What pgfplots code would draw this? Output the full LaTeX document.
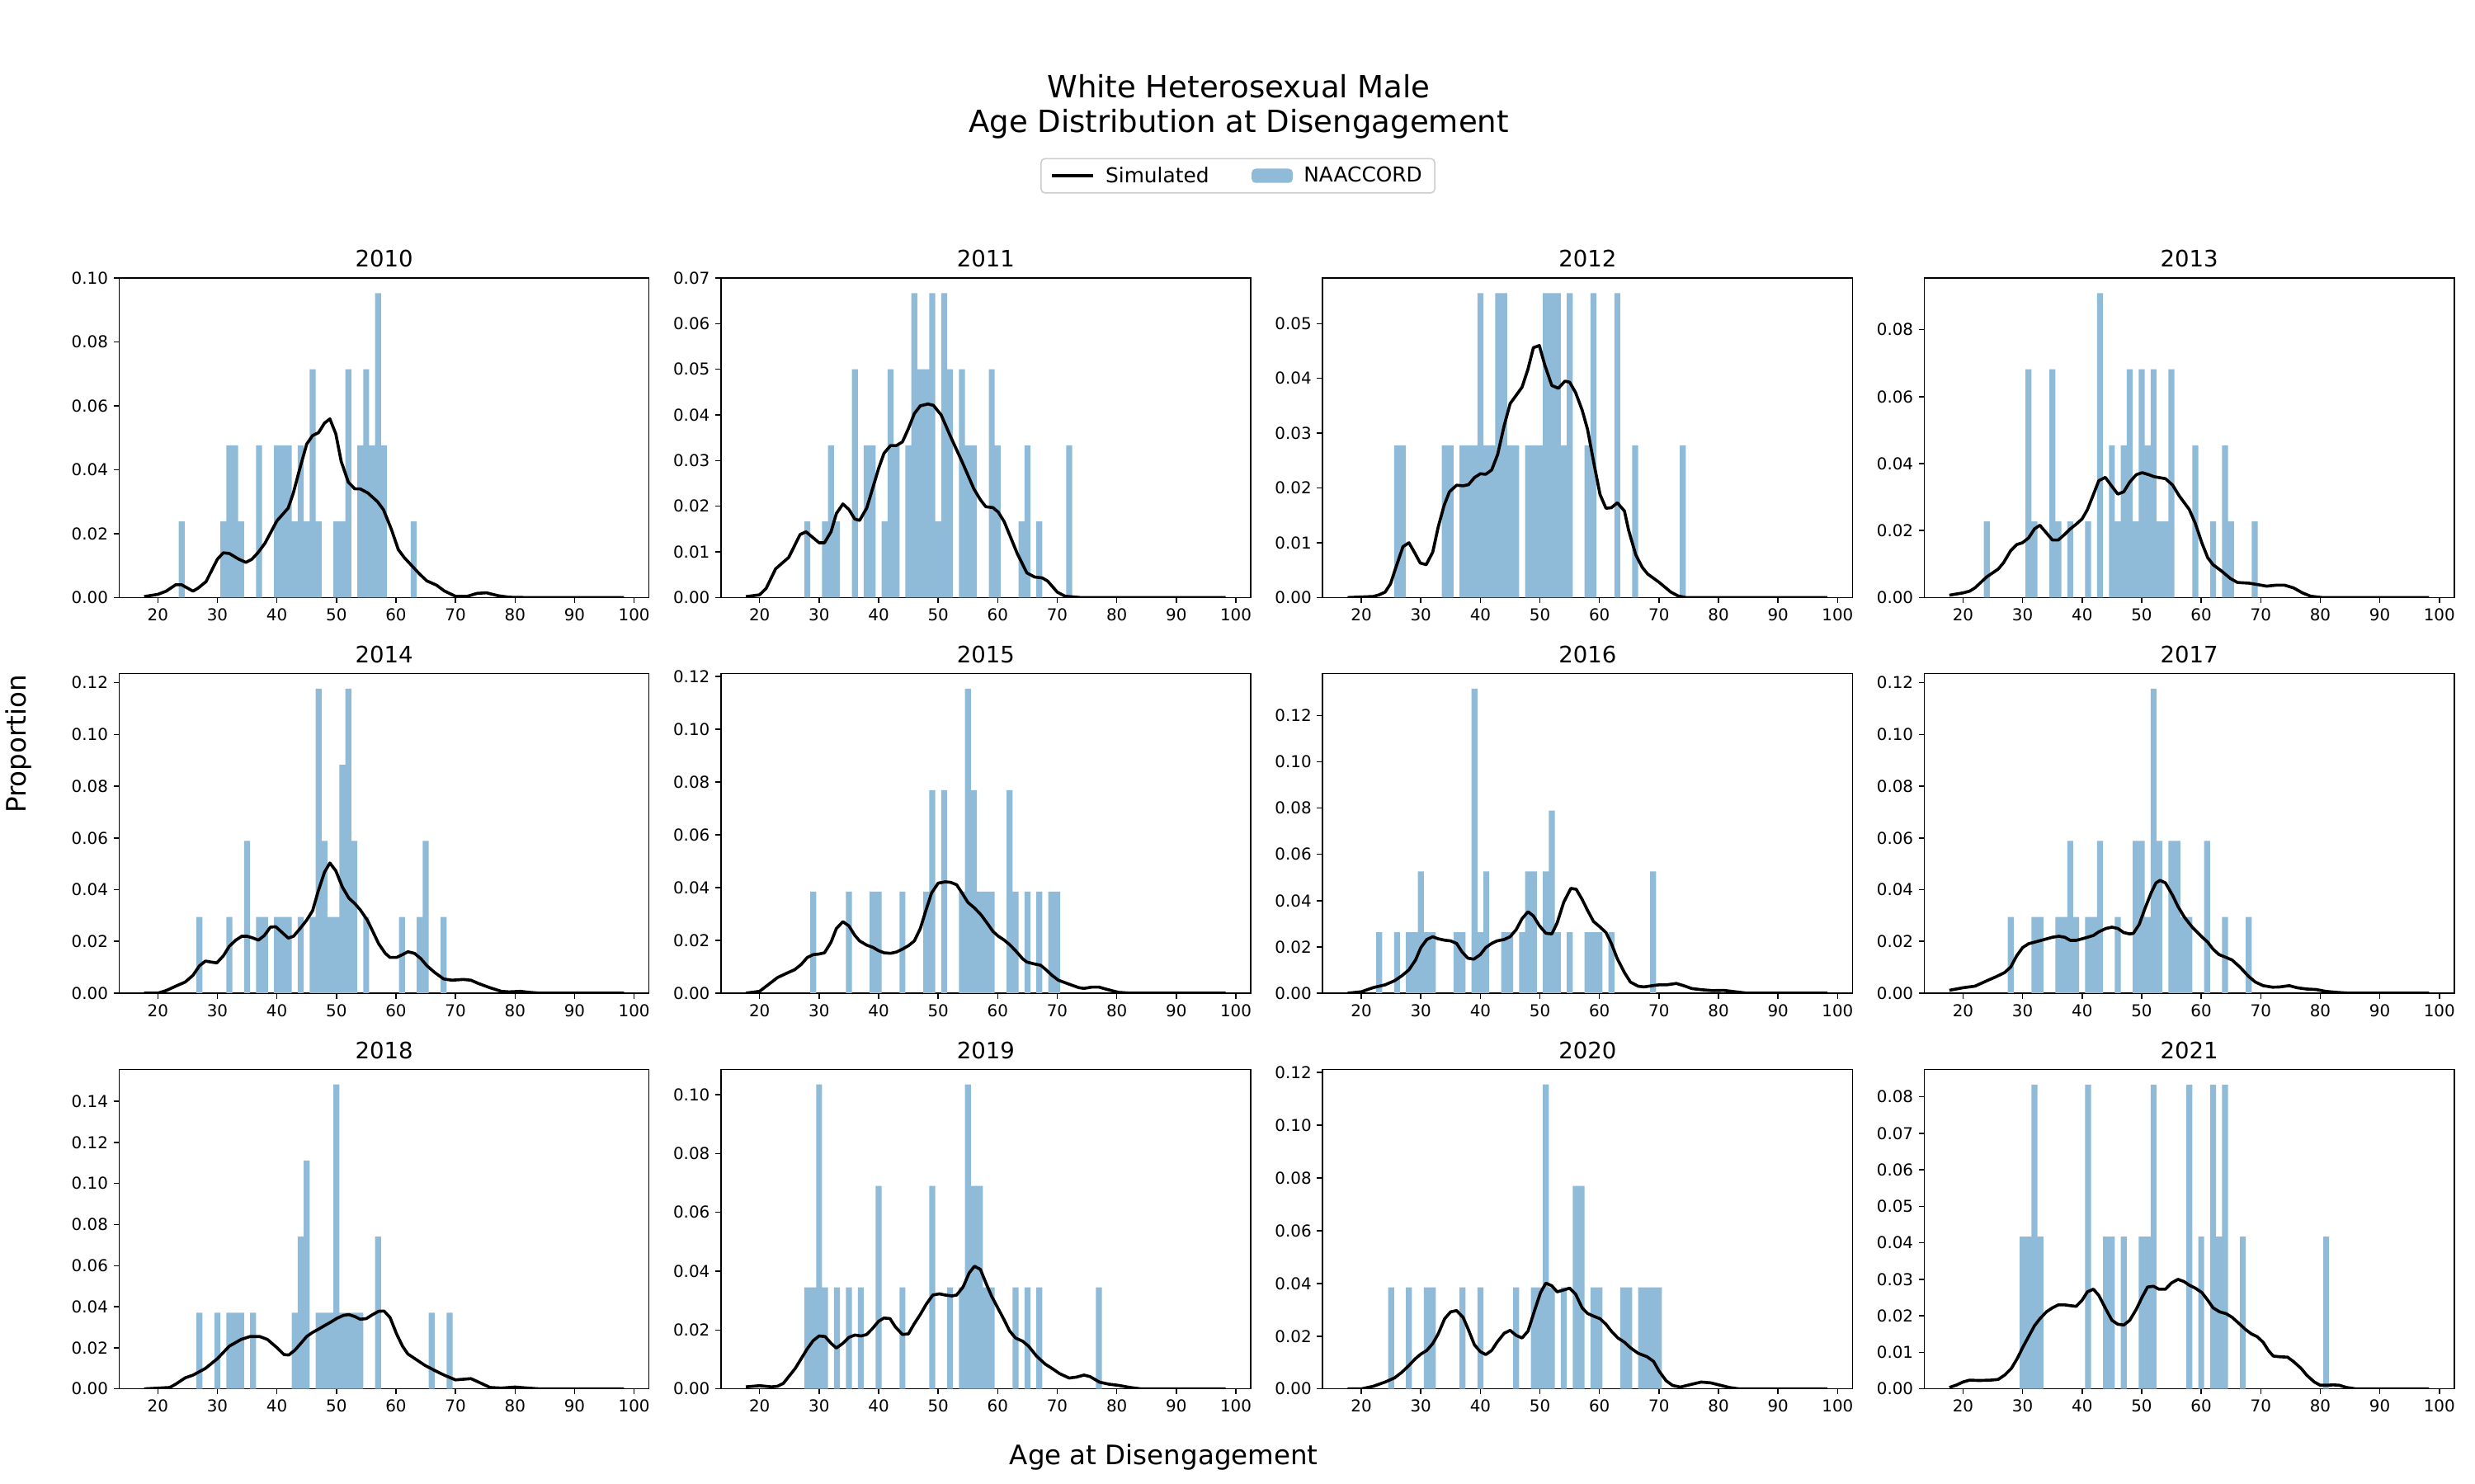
\documentclass[border=0pt]{standalone}
\usepackage{fontspec}
\setmainfont{DejaVu Sans}
\usepackage{pgfplots}
\pgfplotsset{compat=1.18}
\definecolor{histblue}{RGB}{143,187,217}
\definecolor{legedge}{RGB}{204,204,204}
\pgfplotsset{
  panel/.style={
    scale only axis, width=336pt, height=202.7pt, anchor=north west,
    xmin=13.5, xmax=102.5, ymin=0,
    xtick={20,30,40,50,60,70,80,90,100},
    tick pos=left, tick align=outside, major tick length=3.5pt,
    tick style={black, line width=0.8pt},
    axis line style={black, line width=0.8pt},
    scaled y ticks=false,
    /pgf/number format/assume math mode=true,
    tick label style={font=\fontsize{10.4}{12}\selectfont},
    yticklabel style={/pgf/number format/.cd, fixed, fixed zerofill, precision=2, /tikz/.cd},
    xticklabel style={/pgf/number format/.cd, fixed, precision=0, /tikz/.cd},
    title style={font=\fontsize{14.4}{17}\selectfont, at={(0.5,1)}, anchor=base, yshift=0.8pt},
  },
  hist/.style={ybar, bar width=1, bar shift=0pt, fill=histblue, draw=none},
  kde/.style={black, line width=1.9pt, line join=round, no marks},
}
\begin{document}
\begin{tikzpicture}
\path (0pt,0pt) rectangle (1568pt,940.8pt);
\node[font=\fontsize{19.4}{23}\selectfont, anchor=base] at (784pt,878.8pt) {White Heterosexual Male};
\node[font=\fontsize{19.4}{23}\selectfont, anchor=base] at (784pt,856.8pt) {Age Distribution at Disengagement};
\node[font=\fontsize{17}{20}\selectfont, rotate=90, anchor=center] at (10pt,468.8pt) {Proportion};
\node[font=\fontsize{17}{20}\selectfont, anchor=base] at (736.5pt,12pt) {Age at Disengagement};

% 2010
\begin{axis}[panel, at={(74pt,764.5pt)}, title={2010}, ymax=0.1, ytick={0,0.02,0.04,0.06,0.08,0.10},
  reverse legend, legend columns=2,
  legend style={at={(2.1116,1.3197)}, anchor=center, draw=legedge, line width=0.8pt, rounded corners=2.5pt,
    font=\fontsize{13}{15}\selectfont, inner xsep=6pt, inner ysep=3.2pt,
    /tikz/every even column/.append style={column sep=25pt},
    /tikz/every odd column/.append style={column sep=5pt}}]
\addplot[hist, legend image code/.code={\fill[histblue] (0pt,-4.5pt) rectangle (26pt,4.5pt);}] coordinates {(24,0.02381)(31,0.02381)(32,0.04762)(33,0.04762)(34,0.02381)(37,0.04762)(40,0.04762)(41,0.04762)(42,0.04762)(43,0.02381)(44,0.04762)(45,0.02381)(46,0.07143)(47,0.02381)(50,0.02381)(51,0.02381)(52,0.07143)(54,0.04762)(55,0.07143)(56,0.04762)(57,0.09524)(58,0.04762)(63,0.02381)};
\addlegendentry{NAACCORD}
\addplot[kde, legend image code/.code={\draw[black,line width=1.9pt] (0pt,0pt) -- (26pt,0pt);}] coordinates {(17.7,0.0003)(20,0.001)(21.4,0.002)(23,0.004)(24,0.004)(25.9,0.002)(26.8,0.003)(28.1,0.005)(30,0.012)(31,0.014)(32,0.0138)(33.6,0.012)(34.8,0.011)(35.8,0.012)(36.8,0.014)(38,0.017)(40,0.024)(41.9,0.028)(42.8,0.033)(43.8,0.040)(45,0.048)(46,0.0507)(47,0.0516)(48,0.0546)(48.9,0.0559)(49.9,0.0512)(50.8,0.0426)(52,0.0361)(53.1,0.034)(54,0.034)(55.3,0.0327)(56.9,0.030)(57.9,0.0275)(59.2,0.0215)(60.4,0.015)(61.4,0.0125)(62.7,0.0099)(64,0.0073)(65.2,0.0052)(66.8,0.0039)(68.1,0.0021)(70,0.0004)(72,0.0004)(73.6,0.0013)(75.2,0.0015)(77.1,0.0006)(79,0.0001)(82,0)(98.3,0)};
\addlegendentry{Simulated}
\end{axis}

% 2011
\begin{axis}[panel, at={(455.6pt,764.5pt)}, title={2011}, ymax=0.07, ytick={0,0.01,0.02,0.03,0.04,0.05,0.06,0.07}]
\addplot[hist] coordinates {(28,0.01667)(31,0.01667)(32,0.03333)(33,0.01667)(36,0.05)(38,0.03333)(39,0.03333)(41,0.01667)(42,0.05)(43,0.03333)(45,0.03333)(46,0.06667)(47,0.05)(48,0.05)(49,0.06667)(50,0.01667)(51,0.06667)(52,0.05)(54,0.05)(55,0.03333)(56,0.03333)(59,0.05)(60,0.03333)(64,0.01667)(65,0.03333)(67,0.01667)(72,0.03333)};
\addplot[kde] coordinates {(17.7,0.0002)(20,0.0006)(21.1,0.002)(22.7,0.0063)(24.9,0.0088)(26.8,0.0138)(27.8,0.0144)(30,0.012)(30.9,0.012)(32,0.0144)(32.9,0.0184)(34,0.0205)(35,0.0193)(36,0.0172)(36.8,0.0169)(38,0.0196)(40,0.0283)(40.9,0.0316)(42,0.0333)(43,0.0333)(44,0.0341)(45,0.037)(46,0.0403)(47,0.042)(48.3,0.0424)(49.2,0.0421)(50.5,0.040)(52.1,0.0352)(54,0.0298)(56,0.0238)(57.1,0.0214)(58,0.0199)(59.2,0.0197)(60.1,0.0187)(61.1,0.0166)(63.3,0.0096)(64.9,0.0054)(66.2,0.0045)(67.5,0.0043)(68.4,0.0036)(70,0.0012)(71.3,0.0003)(73.9,0)(98.3,0)};
\end{axis}

% 2012
\begin{axis}[panel, at={(837.2pt,764.5pt)}, title={2012}, ymax=0.05833, ytick={0,0.01,0.02,0.03,0.04,0.05}]
\addplot[hist] coordinates {(26,0.02778)(27,0.02778)(34,0.02778)(35,0.02778)(37,0.02778)(38,0.02778)(39,0.02778)(40,0.05556)(41,0.02778)(42,0.02778)(43,0.05556)(44,0.05556)(45,0.02778)(46,0.02778)(48,0.02778)(49,0.02778)(50,0.02778)(51,0.05556)(52,0.05556)(53,0.05556)(54,0.02778)(55,0.05556)(58,0.02778)(59,0.05556)(63,0.05556)(66,0.02778)(74,0.02778)};
\addplot[kde] coordinates {(17.7,0)(22,0.0002)(23,0.0005)(24,0.001)(24.9,0.0025)(25.9,0.0058)(27,0.0093)(28,0.010)(28.9,0.0083)(29.9,0.0063)(30.9,0.006)(32,0.0083)(32.9,0.0128)(33.9,0.0168)(34.8,0.0193)(36,0.0205)(37.1,0.0204)(38,0.0206)(39,0.0219)(40,0.0226)(40.9,0.0225)(41.9,0.0233)(42.9,0.0261)(44,0.0314)(45,0.0354)(46,0.0369)(47,0.0384)(48,0.0417)(48.9,0.0456)(49.9,0.046)(50.8,0.0425)(52,0.0387)(53.1,0.0382)(54.2,0.0395)(55,0.0393)(56,0.0374)(57.1,0.0342)(58,0.0307)(59,0.0249)(60.1,0.0188)(61.1,0.0163)(62,0.0164)(63,0.0173)(64.2,0.0158)(64.9,0.0123)(66.1,0.0078)(67.2,0.0055)(68.1,0.0043)(70,0.0028)(72,0.001)(73.2,0.0003)(74.5,0)(98.3,0)};
\end{axis}

% 2013
\begin{axis}[panel, at={(1218.8pt,764.5pt)}, title={2013}, ymax=0.09545, ytick={0,0.02,0.04,0.06,0.08}]
\addplot[hist] coordinates {(24,0.02273)(31,0.06818)(32,0.02273)(35,0.06818)(36,0.02273)(38,0.02273)(41,0.02273)(43,0.09091)(45,0.04545)(46,0.02273)(47,0.04545)(48,0.06818)(49,0.02273)(50,0.06818)(51,0.04545)(52,0.06818)(53,0.02273)(54,0.02273)(55,0.06818)(59,0.04545)(62,0.02273)(64,0.04545)(65,0.02273)(69,0.02273)};
\addplot[kde] coordinates {(17.7,0.0007)(20,0.0014)(21.1,0.0019)(22,0.0029)(24,0.0062)(25.9,0.0085)(26.8,0.0104)(28,0.014)(29,0.0158)(30,0.0164)(31,0.0178)(32,0.0205)(32.9,0.0216)(34,0.0193)(35,0.0172)(36,0.0172)(37.1,0.0189)(38,0.0205)(39,0.0219)(40,0.0235)(40.9,0.0263)(41.9,0.0308)(42.8,0.0349)(43.9,0.0359)(45,0.0332)(46,0.0309)(47,0.0316)(48,0.0345)(49.1,0.0367)(50.1,0.0373)(51.2,0.0367)(52.1,0.0361)(54,0.0355)(55.2,0.0336)(56.3,0.0304)(58,0.0263)(59,0.0222)(60.1,0.0164)(61.1,0.0119)(62,0.0098)(63.5,0.0078)(64.9,0.0057)(66.1,0.0045)(68,0.0043)(69.4,0.0039)(71,0.0034)(72.6,0.0037)(74,0.0037)(75.5,0.0029)(77,0.0014)(78.4,0.0004)(80.3,0)(98.3,0)};
\end{axis}

% 2014
\begin{axis}[panel, at={(74pt,513.6pt)}, title={2014}, ymax=0.12353, ytick={0,0.02,0.04,0.06,0.08,0.10,0.12}]
\addplot[hist] coordinates {(27,0.02941)(32,0.02941)(35,0.05882)(37,0.02941)(38,0.02941)(40,0.02941)(41,0.02941)(42,0.02941)(44,0.02941)(46,0.02941)(47,0.11765)(48,0.05882)(49,0.02941)(50,0.02941)(51,0.08824)(52,0.11765)(53,0.05882)(55,0.02941)(61,0.02941)(64,0.02941)(65,0.05882)(68,0.02941)};
\addplot[kde] coordinates {(17.7,0)(20,0)(21.4,0.001)(23,0.0027)(24.6,0.0043)(25.9,0.0069)(27,0.0106)(28,0.0124)(29,0.012)(29.9,0.0117)(31,0.0144)(32,0.0181)(33.1,0.0205)(34.1,0.022)(35,0.022)(36,0.0213)(36.9,0.0205)(37.9,0.0223)(38.9,0.0255)(39.8,0.0257)(40.9,0.0234)(41.9,0.0213)(42.8,0.022)(43.9,0.025)(45,0.0282)(46,0.0319)(47,0.0399)(48,0.0468)(48.9,0.0503)(49.9,0.0473)(51,0.041)(52.1,0.0367)(53.1,0.0346)(54,0.0322)(55.2,0.0282)(56.1,0.0239)(57.1,0.0191)(58.2,0.0154)(59,0.0138)(60.1,0.0138)(61.1,0.0149)(62,0.016)(63.1,0.0154)(64.2,0.0133)(65.2,0.0106)(66.5,0.008)(68,0.0055)(69.4,0.005)(71.3,0.0053)(72.6,0.005)(73.9,0.0037)(75.8,0.0021)(77.7,0.0007)(79,0.0005)(80.9,0.0007)(82.5,0.0003)(84.1,0)(98.3,0)};
\end{axis}

% 2015
\begin{axis}[panel, at={(455.6pt,513.6pt)}, title={2015}, ymax=0.12115, ytick={0,0.02,0.04,0.06,0.08,0.10,0.12}]
\addplot[hist] coordinates {(29,0.03846)(35,0.03846)(39,0.03846)(40,0.03846)(44,0.03846)(48,0.03846)(49,0.07692)(51,0.07692)(54,0.03846)(55,0.11538)(56,0.07692)(57,0.03846)(58,0.03846)(59,0.03846)(62,0.07692)(63,0.03846)(65,0.03846)(67,0.03846)(69,0.03846)(70,0.03846)};
\addplot[kde] coordinates {(17.7,0)(20,0.0007)(21.1,0.0026)(23,0.0059)(24.6,0.0076)(25.9,0.0089)(27,0.0109)(28,0.0135)(29,0.0146)(29.9,0.0148)(30.9,0.0153)(32,0.0193)(32.9,0.0245)(34,0.0271)(35,0.0255)(36,0.0219)(36.8,0.0198)(38,0.0182)(39,0.0174)(40,0.0161)(40.9,0.0153)(42,0.0151)(43,0.0156)(44,0.0167)(45,0.018)(46,0.0198)(47,0.0245)(48,0.0318)(48.9,0.038)(50,0.0417)(51.2,0.0422)(52.1,0.042)(53.1,0.0411)(54,0.038)(55,0.0344)(56.1,0.0323)(57.2,0.0297)(58.4,0.026)(59.2,0.0234)(60.1,0.0216)(61.1,0.0201)(62,0.0184)(63,0.0161)(64.2,0.013)(64.9,0.0118)(66.1,0.0111)(67.2,0.0106)(68.1,0.0089)(69.1,0.0068)(70.2,0.0049)(72,0.0034)(73.6,0.0021)(74.5,0.0018)(75.8,0.0023)(77,0.0023)(78.4,0.0014)(80.3,0.0003)(82.2,0)(98.3,0)};
\end{axis}

% 2016
\begin{axis}[panel, at={(837.2pt,513.6pt)}, title={2016}, ymax=0.13816, ytick={0,0.02,0.04,0.06,0.08,0.10,0.12}]
\addplot[hist] coordinates {(23,0.02632)(26,0.02632)(28,0.02632)(29,0.02632)(30,0.05263)(31,0.02632)(32,0.02632)(36,0.02632)(37,0.02632)(39,0.13158)(40,0.02632)(41,0.05263)(44,0.02632)(45,0.02632)(47,0.02632)(48,0.05263)(49,0.05263)(51,0.05263)(52,0.07895)(53,0.02632)(55,0.02632)(58,0.02632)(59,0.02632)(60,0.02632)(62,0.02632)(69,0.05263)};
\addplot[kde] coordinates {(17.7,0)(20,0.0006)(22,0.0024)(24,0.0036)(25.6,0.0054)(26.8,0.0075)(28,0.0101)(29.1,0.0143)(30,0.0197)(31,0.0232)(32,0.0244)(32.9,0.0235)(34,0.0229)(35,0.0226)(36,0.0215)(36.9,0.0179)(37.9,0.0151)(38.9,0.0147)(40,0.0167)(40.9,0.0197)(41.9,0.0215)(42.8,0.0226)(44,0.0232)(45,0.0244)(46,0.0274)(47,0.0322)(48,0.0352)(48.9,0.0334)(49.9,0.0292)(51,0.0259)(52,0.0256)(52.9,0.0304)(54,0.0393)(55.2,0.0453)(56.1,0.0449)(57.1,0.0405)(58,0.0358)(59,0.031)(60.1,0.0286)(61.1,0.0262)(62,0.0215)(63,0.0149)(64.2,0.0089)(65.2,0.0048)(66.5,0.003)(67.5,0.0027)(68.8,0.0032)(70,0.0036)(71.3,0.0036)(72.9,0.0042)(74.2,0.0032)(75.5,0.002)(77.1,0.0015)(79,0.0011)(80.9,0.0012)(82.8,0.0006)(84.8,0)(98.3,0)};
\end{axis}

% 2017
\begin{axis}[panel, at={(1218.8pt,513.6pt)}, title={2017}, ymax=0.12353, ytick={0,0.02,0.04,0.06,0.08,0.10,0.12}]
\addplot[hist] coordinates {(28,0.02941)(32,0.02941)(33,0.02941)(36,0.02941)(37,0.02941)(38,0.05882)(39,0.02941)(41,0.02941)(42,0.02941)(43,0.05882)(46,0.02941)(49,0.05882)(50,0.05882)(51,0.02941)(52,0.11765)(53,0.05882)(55,0.05882)(56,0.05882)(57,0.02941)(58,0.02941)(61,0.05882)(64,0.02941)(68,0.02941)};
\addplot[kde] coordinates {(17.7,0.0011)(20,0.0021)(22,0.0027)(24,0.0048)(25.6,0.0064)(27,0.008)(28,0.0101)(29,0.0144)(30,0.0176)(31,0.0191)(32,0.0197)(33.6,0.0207)(35,0.0216)(36.1,0.022)(37.1,0.0216)(38,0.0204)(39,0.0204)(40,0.021)(40.9,0.0216)(41.9,0.0223)(42.8,0.0237)(44,0.025)(45,0.0255)(46,0.025)(47,0.0234)(48,0.0229)(48.6,0.0231)(49.6,0.0266)(50.5,0.0324)(51.6,0.0388)(52.4,0.0426)(53.1,0.0436)(54,0.0426)(55.2,0.0378)(56.1,0.0335)(57.2,0.0293)(58.5,0.0255)(60.1,0.0218)(61.1,0.0197)(62,0.017)(63,0.0149)(64.2,0.0138)(65.2,0.0128)(66.5,0.0101)(68,0.0064)(69.1,0.0043)(70.4,0.0029)(72,0.0023)(73.2,0.0024)(74.8,0.0029)(76.1,0.0021)(77.7,0.0016)(79.3,0.0014)(80.9,0.0007)(82.8,0.0003)(84.8,0)(98.3,0)};
\end{axis}

% 2018
\begin{axis}[panel, at={(74pt,262.6pt)}, title={2018}, ymax=0.15556, ytick={0,0.02,0.04,0.06,0.08,0.10,0.12,0.14}]
\addplot[hist] coordinates {(27,0.03704)(30,0.03704)(32,0.03704)(33,0.03704)(34,0.03704)(36,0.03704)(43,0.03704)(44,0.07407)(45,0.11111)(47,0.03704)(48,0.03704)(49,0.03704)(50,0.14815)(51,0.03704)(52,0.03704)(53,0.03704)(54,0.03704)(57,0.07407)(66,0.03704)(69,0.03704)};
\addplot[kde] coordinates {(17.7,0)(22,0.0007)(23,0.0023)(24.6,0.0054)(25.9,0.0067)(28,0.01)(30,0.0147)(32,0.0208)(34,0.0241)(35.5,0.0255)(37.1,0.0255)(38.4,0.0241)(40,0.0201)(41.2,0.0167)(42,0.0165)(43,0.0188)(44,0.0221)(45,0.0255)(46,0.0275)(47,0.0291)(48,0.0308)(49.1,0.0326)(50.1,0.0344)(51.2,0.0358)(52.1,0.0362)(53.1,0.0352)(54,0.0339)(55,0.0342)(56.1,0.0362)(57.1,0.0378)(58,0.0379)(59,0.0348)(60.1,0.0268)(61.1,0.0208)(62,0.017)(63.5,0.0141)(64.9,0.0114)(66.5,0.009)(68.1,0.0067)(70,0.0044)(71.3,0.0047)(72.6,0.005)(73.9,0.0033)(75.8,0.0007)(77.7,0.0004)(80,0.0009)(82.2,0.0004)(84.1,0)(98.3,0)};
\end{axis}

% 2019
\begin{axis}[panel, at={(455.6pt,262.6pt)}, title={2019}, ymax=0.10862, ytick={0,0.02,0.04,0.06,0.08,0.10}]
\addplot[hist] coordinates {(28,0.03448)(29,0.03448)(30,0.10345)(31,0.03448)(33,0.03448)(35,0.03448)(37,0.03448)(40,0.06897)(44,0.03448)(49,0.06897)(52,0.03448)(54,0.03448)(55,0.10345)(56,0.06897)(57,0.06897)(58,0.03448)(59,0.03448)(63,0.03448)(65,0.03448)(67,0.03448)(77,0.03448)};
\addplot[kde] coordinates {(17.7,0.0007)(20,0.0011)(22,0.0007)(23,0.0009)(24,0.0019)(24.9,0.0042)(26,0.007)(27,0.0103)(28,0.0136)(29,0.0164)(30,0.018)(31,0.0178)(32,0.0155)(32.9,0.0139)(34,0.0155)(35,0.0175)(36,0.0183)(37.1,0.018)(38,0.0185)(39,0.0206)(40,0.023)(40.9,0.0241)(41.9,0.0239)(42.8,0.0211)(44,0.0185)(45,0.0187)(46,0.0222)(47,0.0253)(48,0.0288)(49.1,0.0319)(50.2,0.0323)(51.2,0.0319)(52.3,0.0316)(53.1,0.0319)(54.2,0.0347)(55.2,0.0394)(56.1,0.0417)(57.1,0.0406)(58,0.0361)(59,0.0314)(60.1,0.0272)(61.1,0.0234)(62,0.0197)(63,0.0173)(64.2,0.0162)(65.2,0.0145)(66.5,0.0112)(68,0.0084)(69.1,0.007)(70.4,0.0052)(72,0.0037)(73.2,0.004)(74.5,0.0047)(75.5,0.0042)(77.1,0.0023)(78.7,0.0016)(80.3,0.0012)(82.2,0.0005)(84.1,0)(98.3,0)};
\end{axis}

% 2020
\begin{axis}[panel, at={(837.2pt,262.6pt)}, title={2020}, ymax=0.12115, ytick={0,0.02,0.04,0.06,0.08,0.10,0.12}]
\addplot[hist] coordinates {(25,0.03846)(28,0.03846)(31,0.03846)(32,0.03846)(37,0.03846)(40,0.03846)(46,0.03846)(49,0.03846)(50,0.03846)(51,0.11538)(52,0.03846)(54,0.03846)(56,0.07692)(57,0.07692)(59,0.03846)(60,0.03846)(64,0.03846)(65,0.03846)(67,0.03846)(68,0.03846)(69,0.03846)(70,0.03846)};
\addplot[kde] coordinates {(17.7,0)(20,0)(22,0.001)(24,0.0026)(25.6,0.0042)(26.8,0.0063)(28,0.0089)(29.1,0.0115)(30,0.0132)(31,0.0146)(32,0.0172)(32.9,0.0208)(34,0.0266)(35,0.0292)(36,0.0297)(37.1,0.0271)(38,0.0224)(39,0.0167)(40,0.0141)(40.9,0.013)(41.9,0.0146)(42.8,0.0177)(44,0.0211)(45,0.0222)(46,0.0203)(47,0.0193)(48,0.0219)(49.1,0.0297)(50.1,0.0365)(51,0.0401)(52,0.0391)(52.9,0.0368)(54,0.0375)(55,0.0382)(56,0.0359)(57.1,0.0307)(58,0.0286)(59,0.0276)(60.1,0.0266)(61.1,0.0245)(62,0.0219)(63.1,0.0193)(64.2,0.0177)(65.2,0.0156)(66.5,0.0135)(68,0.0122)(69.1,0.0104)(70,0.0068)(71.2,0.0031)(72.3,0.0013)(73.6,0.0007)(75.2,0.0016)(77.1,0.0026)(78.7,0.0023)(80.3,0.0014)(81.9,0.0005)(83.5,0)(98.3,0)};
\end{axis}

% 2021
\begin{axis}[panel, at={(1218.8pt,262.6pt)}, title={2021}, ymax=0.0875, ytick={0,0.01,0.02,0.03,0.04,0.05,0.06,0.07,0.08}]
\addplot[hist] coordinates {(30,0.04167)(31,0.04167)(32,0.08333)(33,0.04167)(41,0.08333)(44,0.04167)(45,0.04167)(47,0.04167)(50,0.04167)(51,0.04167)(52,0.08333)(58,0.08333)(60,0.04167)(62,0.08333)(63,0.04167)(64,0.08333)(67,0.04167)(81,0.04167)};
\addplot[kde] coordinates {(17.7,0.0004)(18.8,0.001)(20,0.0019)(21.1,0.0024)(22.7,0.0023)(24.6,0.0024)(25.9,0.0026)(27,0.0038)(28.1,0.0056)(29.1,0.0083)(30,0.0113)(31,0.0143)(32,0.0173)(32.9,0.0192)(34,0.0211)(35,0.0222)(36,0.023)(37.1,0.023)(38,0.0228)(39,0.0226)(40,0.0243)(40.9,0.0266)(41.9,0.0273)(42.8,0.0256)(44,0.0218)(45,0.0188)(46,0.0177)(47,0.0175)(48,0.0188)(49.1,0.0218)(50.1,0.0252)(51,0.0279)(52,0.0281)(52.9,0.0273)(54,0.0273)(55,0.029)(56.1,0.03)(57.1,0.0294)(58,0.0284)(59,0.0276)(60.1,0.0264)(61.1,0.0243)(62,0.0222)(63.1,0.0211)(64.2,0.0206)(65.2,0.0196)(66.5,0.0177)(67.5,0.0162)(68.4,0.0151)(69.4,0.0143)(70.4,0.0128)(71.3,0.0105)(72.1,0.009)(73.2,0.0088)(74.5,0.0087)(75.5,0.0075)(76.8,0.0056)(77.7,0.0038)(79,0.0019)(80,0.001)(80.9,0.001)(82.2,0.0011)(83.2,0.001)(84.4,0.0004)(86,0)(98.3,0)};
\end{axis}
\end{tikzpicture}
\end{document}
